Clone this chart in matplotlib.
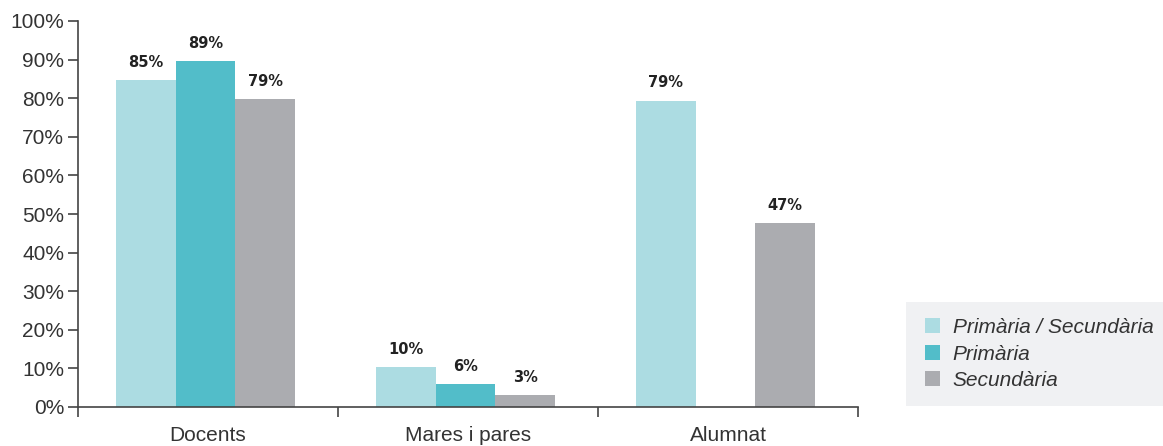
import numpy as np
import matplotlib
matplotlib.use("Agg")
import matplotlib.pyplot as plt
from matplotlib.patches import Rectangle

plt.rcParams['font.family'] = ['Liberation Sans', 'DejaVu Sans']

# data (bar heights, printed labels as shown)
categories = ["Docents", "Mares i pares", "Alumnat"]
series = ["Primària / Secundària", "Primària", "Secundària"]
prim_sec = [84.8, 10.4, 79.4]
primaria = [89.6, 6.0, np.nan]
secundaria = [79.8, 3.1, 47.6]
prim_sec_lbl = ["85%", "10%", "79%"]
primaria_lbl = ["89%", "6%", ""]
secundaria_lbl = ["79%", "3%", "47%"]
colors = ["#acdce2", "#52bdc9", "#abacb0"]

values = [prim_sec, primaria, secundaria]
labels_txt = [prim_sec_lbl, primaria_lbl, secundaria_lbl]

fig = plt.figure(figsize=(11.63, 4.46), dpi=100)
ax = fig.add_axes([78 / 1163, 1 - 407 / 446, 780 / 1163, 386 / 446])

x = np.arange(len(categories))
w = 0.23
for i, (vals, lbls, name, c) in enumerate(zip(values, labels_txt, series, colors)):
    pos = x + (i - 1) * w - 0.01
    v = np.array(vals, dtype=float)
    ok = ~np.isnan(v)
    ax.bar(pos[ok], v[ok], width=w, color=c, label=name, linewidth=0)
    for px, py, t in zip(pos[ok], v[ok], np.array(lbls)[ok]):
        ax.text(px, py + 2.6, t, ha='center', va='bottom', family='DejaVu Sans',
                fontsize=10.5, fontweight='bold', color='#222222')

ax.set_xlim(-0.5, len(categories) - 0.5)
ax.set_ylim(0, 100)
ax.set_yticks(np.arange(0, 101, 10))
ax.set_yticklabels([f"{t}%" for t in range(0, 101, 10)])
ax.set_xticks(x)
ax.set_xticklabels(categories)
ax.set_xticks(np.arange(-0.5, len(categories)), minor=True)

spine_col = '#444444'
for s in ['top', 'right']:
    ax.spines[s].set_visible(False)
for s in ['left', 'bottom']:
    ax.spines[s].set_color(spine_col)
    ax.spines[s].set_linewidth(1.2)

ax.tick_params(axis='y', length=7, width=1.2, color=spine_col, labelsize=15,
               labelcolor='#333333', pad=3)
ax.tick_params(axis='x', which='major', length=0, labelsize=15,
               labelcolor='#333333', pad=14)
ax.tick_params(axis='x', which='minor', length=7, width=1.2, color=spine_col)

# legend box
fig.patches.append(Rectangle((906 / 1163, 1 - 406 / 446), 257 / 1163, 104 / 446,
                             transform=fig.transFigure, facecolor='#f0f1f3',
                             edgecolor='none', zorder=0))
handles, labels = ax.get_legend_handles_labels()
leg = fig.legend(handles, labels, loc='center left',
                 bbox_to_anchor=(917 / 1163, 1 - 354 / 446),
                 frameon=False, fontsize=15, handlelength=0.72, handleheight=0.72,
                 handletextpad=0.6, labelspacing=0.35, borderaxespad=0)
for t in leg.get_texts():
    t.set_fontstyle('italic')
    t.set_color('#333333')

fig.savefig("out.png", dpi=100)
